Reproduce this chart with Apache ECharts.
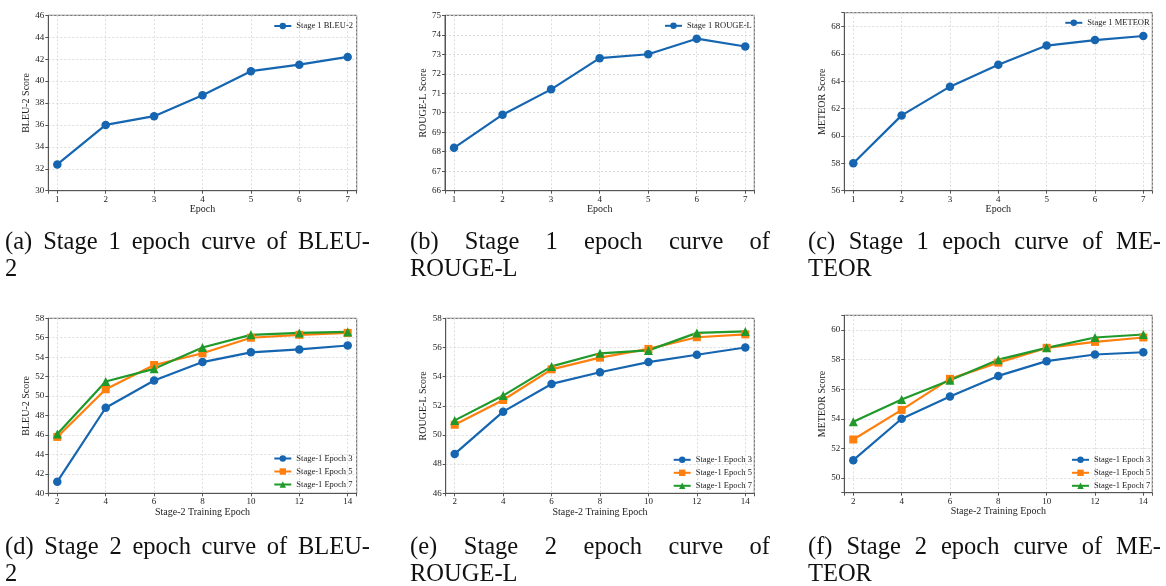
<!DOCTYPE html>
<html>
<head>
<meta charset="utf-8">
<script src="https://cdn.jsdelivr.net/npm/echarts@6/dist/echarts.min.js"></script>
<style>
html,body{margin:0;padding:0;background:#fff;}
#chart{width:1166px;height:586px;}
</style>
</head>
<body>
<div id="chart"></div>
<script>
// ---------- data ----------
const stage1Epochs = [1, 2, 3, 4, 5, 6, 7];
const stage2Epochs = [2, 4, 6, 8, 10, 12, 14];

const stage1Bleu2  = [32.4, 36.0, 36.8, 38.7, 40.9, 41.5, 42.2];
const stage1RougeL = [68.2, 69.9, 71.2, 72.8, 73.0, 73.8, 73.4];
const stage1Meteor = [58.0, 61.5, 63.6, 65.2, 66.6, 67.0, 67.3];

const bleu2Ep3 = [41.2, 48.8, 51.6, 53.5, 54.5, 54.8, 55.2];
const bleu2Ep5 = [45.8, 50.7, 53.2, 54.4, 56.0, 56.3, 56.5];
const bleu2Ep7 = [46.1, 51.5, 52.8, 55.0, 56.3, 56.5, 56.6];

const rougeEp3 = [48.7, 51.6, 53.5, 54.3, 55.0, 55.5, 56.0];
const rougeEp5 = [50.7, 52.4, 54.5, 55.3, 55.9, 56.7, 56.9];
const rougeEp7 = [51.0, 52.7, 54.7, 55.6, 55.8, 57.0, 57.1];

const meteorEp3 = [51.2, 54.0, 55.5, 56.9, 57.9, 58.35, 58.5];
const meteorEp5 = [52.6, 54.6, 56.7, 57.8, 58.8, 59.2, 59.5];
const meteorEp7 = [53.8, 55.3, 56.6, 58.0, 58.8, 59.5, 59.7];

const stage1Names = ['Stage 1 BLEU-2', 'Stage 1 ROUGE-L', 'Stage 1 METEOR'];
const stage2Names = ['Stage-1 Epoch 3', 'Stage-1 Epoch 5', 'Stage-1 Epoch 7'];
const yNames = ['BLEU-2 Score', 'ROUGE-L Score', 'METEOR Score'];
const xNames = ['Epoch', 'Stage-2 Training Epoch'];

const captions = [
  ['(a) Stage 1 epoch curve of BLEU-', '2'],
  ['(b) Stage 1 epoch curve of', 'ROUGE-L'],
  ['(c) Stage 1 epoch curve of ME-', 'TEOR'],
  ['(d) Stage 2 epoch curve of BLEU-', '2'],
  ['(e) Stage 2 epoch curve of', 'ROUGE-L'],
  ['(f) Stage 2 epoch curve of ME-', 'TEOR']
];

// y ranges [min, max, step]
const yRanges = [[30, 46, 2], [66, 75, 1], [56, 69, 2], [40, 58, 2], [46, 58, 2], [49, 61, 2]];

// ---------- styling / layout ----------
const BLUE = '#1565b0', ORANGE = '#ff7f0e', GREEN = '#1f9a2a';
const FONT = 'Liberation Serif';
const grids = [
  {left: 48.3, top: 15.3, width: 308.4, height: 175.4},
  {left: 445,  top: 15.3, width: 309.3, height: 175.4},
  {left: 844.3, top: 12.7, width: 308, height: 178},
  {left: 48.3, top: 318.3, width: 308.4, height: 175},
  {left: 445.7, top: 318.3, width: 308.6, height: 175},
  {left: 844.3, top: 315.3, width: 308, height: 177.4}
];
const yNameGaps = [13, 12, 13, 13, 12, 13];

function fmtStep(step) {
  return function (v) {
    const r = Math.round(v);
    if (Math.abs(v - r) > 1e-6) return '';
    if (r % step !== 0) return '';
    return String(r);
  };
}

const xAxis = [], yAxis = [], series = [], legend = [];
grids.forEach((g, i) => {
  const top = i < 3;
  xAxis.push({
    type: 'value', gridIndex: i,
    min: top ? 0.814 : 1.628, max: top ? 7.186 : 14.372,
    minInterval: top ? 1 : 2, maxInterval: top ? 1 : 2,
    name: top ? xNames[0] : xNames[1], nameLocation: 'middle', nameGap: 13,
    nameTextStyle: {fontFamily: FONT, fontSize: 10, color: '#222'},
    axisLine: {show: true, lineStyle: {color: '#555', width: 1}},
    axisTick: {show: true, length: 3, lineStyle: {color: '#555'}},
    axisLabel: {fontFamily: FONT, fontSize: 9, color: '#222', margin: 4, formatter: fmtStep(top ? 1 : 2)},
    splitLine: {show: true, lineStyle: {color: '#d4d4d4', type: [2, 2], width: 0.8}}
  });
  const yr = yRanges[i];
  const yax = {
    type: 'value', gridIndex: i, min: yr[0], max: yr[1],
    name: yNames[i % 3], nameLocation: 'middle', nameGap: yNameGaps[i], nameRotate: 90,
    nameTextStyle: {fontFamily: FONT, fontSize: 10, color: '#222'},
    axisLine: {show: true, lineStyle: {color: '#555', width: 1}},
    axisTick: {show: true, length: 3, lineStyle: {color: '#555'}},
    axisLabel: {fontFamily: FONT, fontSize: 9, color: '#222', margin: 4, formatter: fmtStep(yr[2])},
    splitLine: {show: true, lineStyle: {color: '#d4d4d4', type: [2, 2], width: 0.8}}
  };
  if (yr[0] % yr[2] === 0) { yax.interval = yr[2]; }
  else { yax.minInterval = yr[2]; yax.maxInterval = yr[2]; }
  yAxis.push(yax);
});

function pts(xs, ys) { return xs.map((x, k) => [x, ys[k]]); }
function lineSeries(name, i, data, color, symbol, size) {
  return {
    type: 'line', name: name, xAxisIndex: i, yAxisIndex: i, data: data,
    symbol: symbol, symbolSize: size, color: color,
    lineStyle: {width: 2.2, color: color}, itemStyle: {color: color},
    emphasis: {disabled: true}, animation: false, z: 3
  };
}

series.push(lineSeries(stage1Names[0], 0, pts(stage1Epochs, stage1Bleu2), BLUE, 'circle', 8.5));
series.push(lineSeries(stage1Names[1], 1, pts(stage1Epochs, stage1RougeL), BLUE, 'circle', 8.5));
series.push(lineSeries(stage1Names[2], 2, pts(stage1Epochs, stage1Meteor), BLUE, 'circle', 8.5));
const s2 = [[bleu2Ep3, bleu2Ep5, bleu2Ep7], [rougeEp3, rougeEp5, rougeEp7], [meteorEp3, meteorEp5, meteorEp7]];
s2.forEach((grp, j) => {
  const gi = 3 + j;
  series.push(lineSeries(stage2Names[0], gi, pts(stage2Epochs, grp[0]), BLUE, 'circle', 8.5));
  series.push(lineSeries(stage2Names[1], gi, pts(stage2Epochs, grp[1]), ORANGE, 'rect', 8));
  series.push(lineSeries(stage2Names[2], gi, pts(stage2Epochs, grp[2]), GREEN, 'triangle', 9));
});

const legendTextStyle = {fontFamily: FONT, fontSize: 8.5, color: '#222'};
const legendCommon = {orient: 'vertical', itemWidth: 17, itemHeight: 8, itemGap: 4, padding: 0,
  textStyle: legendTextStyle, selectedMode: false};
const topLegendPos = [[273.3, 21.5], [664, 21.3], [1064.3, 18.3]];
topLegendPos.forEach((p, j) => {
  legend.push(Object.assign({}, legendCommon, {data: [stage1Names[j]], left: p[0], top: p[1]}));
});
const botLegendPos = [[273.3, 454], [672.7, 455.3], [1071, 455.3]];
botLegendPos.forEach((p) => {
  legend.push(Object.assign({}, legendCommon, {data: stage2Names, left: p[0], top: p[1]}));
});

// ---------- captions (justified first line) ----------
const capCols = [[5, 370], [410, 770], [808, 1161]];
const capRows = [[243, 270], [548, 575]];
const CAP_FONT_SIZE = 24.5;
const measureCtx = document.createElement('canvas').getContext('2d');
measureCtx.font = CAP_FONT_SIZE + 'px "' + FONT + '"';
const graphic = [];
captions.forEach((cap, idx) => {
  const col = capCols[idx % 3], row = capRows[Math.floor(idx / 3)];
  const words = cap[0].split(' ');
  const widths = words.map(w => measureCtx.measureText(w).width);
  const total = widths.reduce((a, b) => a + b, 0);
  const gap = (col[1] - col[0] - total) / (words.length - 1);
  let x = col[0];
  words.forEach((w, k) => {
    graphic.push({type: 'text', x: x, y: row[0], silent: true,
      style: {text: w, fontFamily: FONT, fontSize: CAP_FONT_SIZE, fill: '#111', verticalAlign: 'middle', align: 'left'}});
    x += widths[k] + gap;
  });
  graphic.push({type: 'text', x: col[0], y: row[1], silent: true,
    style: {text: cap[1], fontFamily: FONT, fontSize: CAP_FONT_SIZE, fill: '#111', verticalAlign: 'middle', align: 'left'}});
});

const chart = echarts.init(document.getElementById('chart'), null, {renderer: 'canvas'});
chart.setOption({
  animation: false,
  backgroundColor: '#fff',
  grid: grids.map(g => Object.assign({show: true, borderColor: '#555', borderWidth: 1, containLabel: false}, g)),
  xAxis: xAxis, yAxis: yAxis, series: series, legend: legend, graphic: graphic
});
</script>
</body>
</html>
